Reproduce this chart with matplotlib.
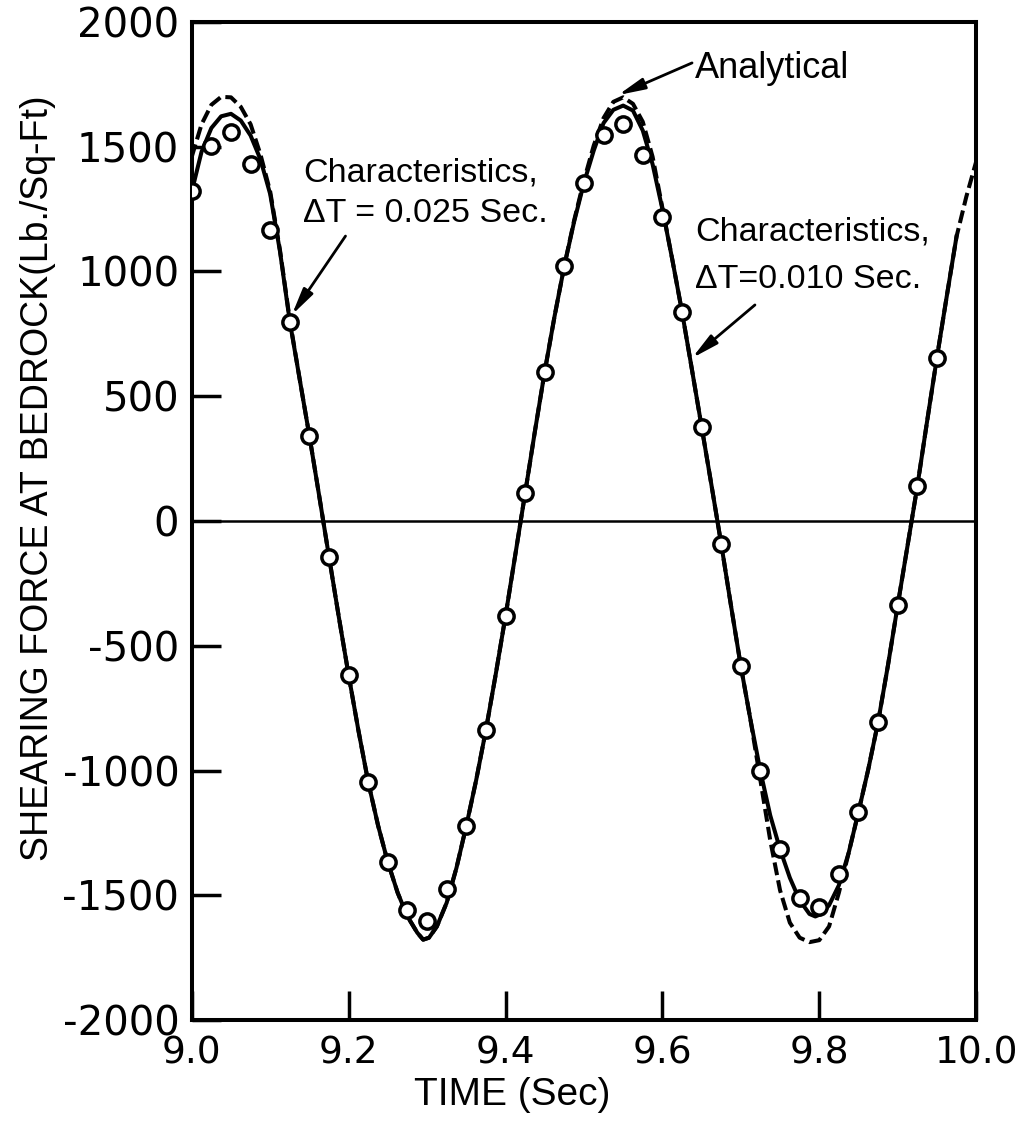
import matplotlib.pyplot as plt

# method of characteristics, dT = 0.025 sec (open circles)
t_coarse = [9.0, 9.025, 9.05, 9.075, 9.1, 9.125, 9.15, 9.175, 9.2, 9.225,
            9.25, 9.275, 9.3, 9.325, 9.35, 9.375, 9.4, 9.425, 9.45, 9.475,
            9.5, 9.525, 9.55, 9.575, 9.6, 9.625, 9.65, 9.675, 9.7, 9.725,
            9.75, 9.775, 9.8, 9.825, 9.85, 9.875, 9.9, 9.925, 9.95]
f_coarse = [1323, 1503, 1558, 1429, 1168, 799, 341, -144, -618, -1047,
            -1368, -1561, -1602, -1474, -1222, -838, -381, 111, 599, 1023,
            1355, 1547, 1591, 1466, 1217, 839, 378, -92, -582, -1003,
            -1316, -1509, -1546, -1414, -1166, -806, -338, 139, 655]

# method of characteristics, dT = 0.010 sec (solid line)
t_fine = [9.0, 9.0125, 9.025, 9.0375, 9.05, 9.0625, 9.075, 9.0875, 9.1, 9.1125,
          9.125, 9.1375, 9.15, 9.1625, 9.175, 9.1875, 9.2, 9.2125, 9.225, 9.2375,
          9.25, 9.2625, 9.275, 9.2875, 9.295, 9.3025, 9.3125, 9.325, 9.3375, 9.35,
          9.3625, 9.375, 9.3875, 9.4, 9.4125, 9.425, 9.4375, 9.45, 9.4625, 9.475,
          9.4875, 9.5, 9.5125, 9.525, 9.5375, 9.55, 9.5625, 9.575, 9.5875, 9.6,
          9.6125, 9.625, 9.6375, 9.65, 9.6625, 9.675, 9.6875, 9.7, 9.7125, 9.725,
          9.7375, 9.75, 9.7625, 9.775, 9.7875, 9.795, 9.8025, 9.8125, 9.825, 9.8375,
          9.85, 9.8625, 9.875, 9.8875, 9.9, 9.9125, 9.925, 9.9375, 9.95, 9.9625,
          9.975]
f_fine = [1320, 1480, 1575, 1622, 1632, 1605, 1545, 1450, 1310, 1080,
          799, 570, 341, 100, -144, -385, -618, -840, -1047, -1220,
          -1368, -1490, -1585, -1650, -1678, -1670, -1625, -1530, -1390, -1222,
          -1040, -838, -615, -381, -135, 111, 360, 599, 820, 1023,
          1200, 1355, 1485, 1595, 1648, 1665, 1645, 1565, 1430, 1250,
          1050, 839, 610, 378, 145, -92, -340, -582, -800, -1003,
          -1180, -1316, -1430, -1520, -1575, -1585, -1575, -1540, -1460, -1330,
          -1166, -995, -806, -580, -338, -100, 139, 400, 655, 900,
          1140]

# analytical solution (dashed line)
t_exact = [9.0, 9.0125, 9.025, 9.0375, 9.05, 9.0625, 9.075, 9.0875, 9.1, 9.1125,
           9.125, 9.1375, 9.15, 9.1625, 9.175, 9.1875, 9.2, 9.2125, 9.225, 9.2375,
           9.25, 9.2625, 9.275, 9.2875, 9.295, 9.3025, 9.3125, 9.325, 9.3375, 9.35,
           9.3625, 9.375, 9.3875, 9.4, 9.4125, 9.425, 9.4375, 9.45, 9.4625, 9.475,
           9.4875, 9.5, 9.5125, 9.525, 9.5375, 9.55, 9.5625, 9.575, 9.5875, 9.6,
           9.6125, 9.625, 9.6375, 9.65, 9.6625, 9.675, 9.6875, 9.7, 9.7125, 9.725,
           9.7375, 9.75, 9.7625, 9.775, 9.7875, 9.8, 9.8125, 9.825, 9.8375,
           9.85, 9.8625, 9.875, 9.8875, 9.9, 9.9125, 9.925, 9.9375, 9.95, 9.9625,
           9.975, 9.9875, 10.0]
f_exact = [1460, 1590, 1668, 1700, 1698, 1660, 1590, 1470, 1320, 1085,
           805, 570, 341, 100, -144, -385, -618, -840, -1047, -1220,
           -1368, -1490, -1585, -1650, -1678, -1670, -1625, -1530, -1390, -1222,
           -1040, -838, -615, -381, -135, 111, 360, 599, 820, 1023,
           1205, 1365, 1505, 1615, 1680, 1698, 1672, 1600, 1460, 1255,
           1050, 839, 610, 378, 145, -92, -340, -582, -800, -1040,
           -1280, -1480, -1610, -1670, -1688, -1680, -1625, -1490, -1330,
           -1166, -995, -806, -580, -338, -100, 139, 400, 655, 900,
           1140, 1300, 1440]

x_ticks = [9.0, 9.2, 9.4, 9.6, 9.8, 10.0]
x_tick_labels = ['9.0', '9.2', '9.4', '9.6', '9.8', '10.0']
y_ticks = [-2000, -1500, -1000, -500, 0, 500, 1000, 1500, 2000]
y_tick_labels = ['-2000', '-1500', '-1000', '-500', '0', '500', '1000', '1500', '2000']

narrow = ['Liberation Sans', 'DejaVu Sans']

fig = plt.figure(figsize=(10.2, 11.22), dpi=100)
ax = fig.add_axes([0.188, 0.0909, 0.769, 0.8895])

# curves
ax.axhline(0, color='black', lw=1.8, zorder=1)
ax.plot(t_fine, f_fine, color='black', lw=2.9, zorder=2)
ax.plot(t_exact, f_exact, color='black', lw=2.9, dashes=(3.2, 1.3), zorder=3)
ax.plot(t_coarse, f_coarse, 'o', ms=11, mew=2.5, mfc='white', mec='black', zorder=4)

ax.set_xlim(9.0, 10.0)
ax.set_ylim(-2000, 2000)

# axes, ticks, labels
for s in ax.spines.values():
    s.set_linewidth(2.9)
ax.set_xticks(x_ticks)
ax.set_xticklabels(x_tick_labels, fontsize=27)
ax.set_yticks(y_ticks)
ax.set_yticklabels(y_tick_labels, fontsize=29)
ax.tick_params(axis='both', direction='in', length=21, width=2.5)
ax.tick_params(axis='x', pad=11)
ax.tick_params(axis='y', pad=9)

ax.set_xlabel('TIME (Sec)', family=narrow, fontsize=28, va='center')
ax.xaxis.set_label_coords(0.409, -0.075)
ax.set_ylabel('SHEARING FORCE AT BEDROCK(Lb./Sq-Ft)', family=narrow, fontsize=27, va='center')
ax.yaxis.set_label_coords(-0.196, 0.543)

# annotations
arrow = dict(arrowstyle='-|>,head_length=0.8,head_width=0.17', lw=2, color='black',
             mutation_scale=20, shrinkA=0, shrinkB=0)

ax.text(9.1416, 1359, 'Characteristics,', family=narrow, fontsize=24.5, va='baseline')
ax.text(9.1416, 1198, '\u0394T = 0.025 Sec.', family=narrow, fontsize=24.5, va='baseline')
ax.annotate('', xy=(9.1276, 826), xytext=(9.196, 1142), arrowprops=arrow)

ax.text(9.6416, 1776, 'Analytical', family=narrow, fontsize=26, va='baseline')
ax.annotate('', xy=(9.5434, 1707), xytext=(9.6378, 1836), arrowprops=arrow)

ax.text(9.6416, 1125, 'Characteristics,', family=narrow, fontsize=24.5, va='baseline')
ax.text(9.6416, 934, '\u0394T=0.010 Sec.', family=narrow, fontsize=24.5, va='baseline')
ax.annotate('', xy=(9.6378, 653), xytext=(9.718, 866), arrowprops=arrow)

plt.savefig('out.png')
plt.close()
